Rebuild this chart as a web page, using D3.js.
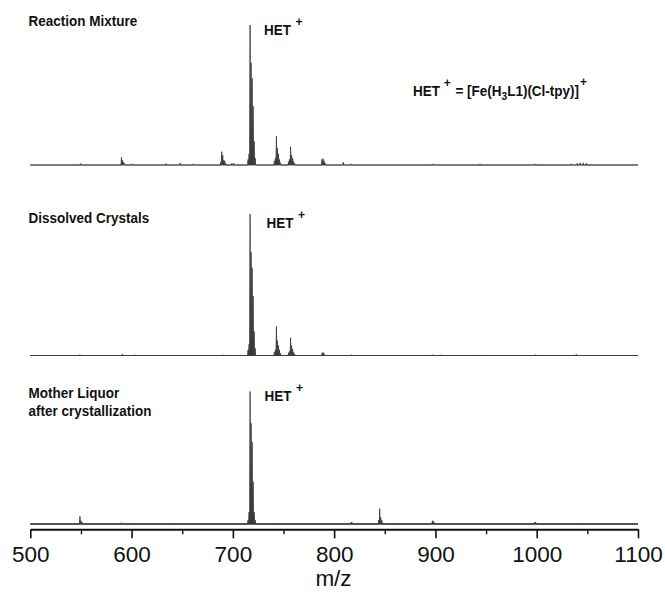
<!DOCTYPE html>
<html><head><meta charset="utf-8">
<script src="https://cdn.jsdelivr.net/npm/d3@7"></script>
<style>
body{margin:0;background:#fff}
svg{display:block}
text{font-family:"Liberation Sans",Arial,Helvetica,sans-serif;fill:#111}
</style>
</head><body>
<svg id="c" width="665" height="597"></svg>
<script>
// ---- data: [m/z, relative intensity %] ----
const reactionMixture = [
  [549.5,1],[590,5.5],[591,3.5],[592,2],[593,1],[601,0.8],[634,1],[648,1.5],[661,0.8],
  [688,2],[689,9.5],[690,7],[691,3.5],[692,3],[693,1],[699,1.2],[701,1.2],
  [715,4],[716,8],[717,100],[718,73],[719,62],[720,42],[721,17],[722,5],
  [741,3],[742,5],[743,20.5],[744,12],[745,8],[746,4],[747,1.5],
  [755,2.5],[756,4],[757,13],[758,7],[759,5],[760,2.5],[761,1],
  [788,4],[789,4.5],[790,3],[791,1.5],[809,2],[817,0.8],[897,0.8],[944,0.8],[999,0.8],
  [1034,0.8],[1040,1.2],[1043,1.5],[1046,1.5],[1049,1.2]
];
const dissolvedCrystals = [
  [549,0.6],[591,1],[604,0.5],[691,0.5],
  [715,4],[716,8],[717,100],[718,73],[719,62],[720,42],[721,17],[722,5],
  [741,2.5],[742,4],[743,20.5],[744,10.5],[745,7],[746,4],[747,1.5],
  [755,2],[756,3],[757,12.5],[758,7],[759,4.5],[760,2.5],[761,1],
  [788,1.5],[789,2.3],[790,1.5],[817,0.6],[897,0.6],[905,0.5],[944,0.5],[999,0.6],[1039,0.8]
];
const motherLiquor = [
  [549,5.8],[550,2.5],[551,1.5],[590,1],[603,0.5],[640,0.4],
  [715,3],[716,9],[717,100],[718,76],[719,62],[720,32],[721,9],[722,3],
  [744,0.8],[817,1.5],[818,1],[844,3],[845,11.6],[846,5],[847,3],[848,1],
  [863,0.5],[897,2.5],[898,2],[899,1],[998,1.5],[999,1.2],[1040,0.5]
];
const majorTicks = [500,600,700,800,900,1000,1100];
const minorTicks = [550,650,750,850,950,1050];
const panelTitles = [["Reaction Mixture"],["Dissolved Crystals"],["Mother Liquor","after crystallization"]];
const peakLabel = "HET";
const xTitle = "m/z";

// ---- drawing ----
const svg = d3.select("#c");
const x = d3.scaleLinear().domain([500,1100]).range([30.3,638]);
const FS = 14.5, SX = 0.93;

function label(xp, yp){
  return svg.append("g").attr("transform",`translate(${xp},${yp}) scale(${SX},1)`)
    .append("text").attr("x",0).attr("y",0).attr("font-size",FS).attr("font-weight","bold");
}

const panels = [
  {data:reactionMixture,  base:165,   h:140,   title:panelTitles[0], ty:[26],        het:[264,35],   bw:1,   bc:"#555"},
  {data:dissolvedCrystals,base:355.5, h:141.5, title:panelTitles[1], ty:[223],       het:[266.5,228],bw:1,   bc:"#555"},
  {data:motherLiquor,     base:524,   h:132.5, title:panelTitles[2], ty:[398,415.5], het:[264.5,401],bw:1.3, bc:"#333"}
];

panels.forEach(p => {
  const y = d3.scaleLinear().domain([0,100]).range([p.base, p.base - p.h]);
  svg.append("line")
    .attr("x1",x(500)).attr("x2",x(1100))
    .attr("y1",p.base).attr("y2",p.base)
    .attr("stroke",p.bc).attr("stroke-width",p.bw);
  const pts = [[500,0]];
  p.data.slice().sort((a,b)=>a[0]-b[0]).forEach(([m,v])=>{
    pts.push([m-0.5,0],[m,v],[m+0.5,0]);
  });
  pts.push([1100,0]);
  const area = d3.area().x(d=>x(d[0])).y0(y(0)).y1(d=>y(d[1]));
  const line = d3.line().x(d=>x(d[0])).y(d=>y(d[1]));
  svg.append("path").attr("d",area(pts)).attr("fill","#333");
  svg.append("path").attr("d",line(pts)).attr("fill","none")
    .attr("stroke","#3a3a3a").attr("stroke-width",0.8).attr("stroke-linejoin","round");

  p.title.forEach((t,i)=>{ label(28.5, p.ty[i]).text(t); });
  const ht = label(p.het[0], p.het[1]);
  ht.append("tspan").text(peakLabel);
  ht.append("tspan").attr("dx",5).attr("dy",-9).attr("font-size",13).text("+");
});

// formula
const f = label(413, 96);
f.append("tspan").text("HET");
f.append("tspan").attr("dx",4).attr("dy",-9).attr("font-size",13).text("+");
f.append("tspan").attr("dx",5).attr("dy",9).text("= [Fe(H");
f.append("tspan").attr("dy",4).attr("font-size",11).text("3");
f.append("tspan").attr("dy",-4).text("L1)(Cl-tpy)]");
f.append("tspan").attr("dx",1).attr("dy",-10).attr("font-size",13).text("+");

// x axis
const axisY = 529.3;
const gMaj = svg.append("g").attr("transform",`translate(0,${axisY})`)
  .call(d3.axisBottom(x).tickValues(majorTicks).tickSize(9).tickSizeOuter(0).tickPadding(8).tickFormat(d3.format("d")));
gMaj.select(".domain").attr("stroke","#111").attr("stroke-width",2);
gMaj.selectAll(".tick line").attr("stroke","#111").attr("stroke-width",1.6);
gMaj.selectAll(".tick text").attr("font-size",22.5).attr("fill","#111")
  .attr("font-family",'"Liberation Sans",Arial,sans-serif');
const gMin = svg.append("g").attr("transform",`translate(0,${axisY})`)
  .call(d3.axisBottom(x).tickValues(minorTicks).tickSize(5).tickSizeOuter(0).tickFormat(""));
gMin.select(".domain").remove();
gMin.selectAll(".tick line").attr("stroke","#111").attr("stroke-width",1.4);

svg.append("text").attr("x",333.5).attr("y",586).attr("text-anchor","middle")
  .attr("font-size",22.5).text(xTitle);
</script>
</body></html>
